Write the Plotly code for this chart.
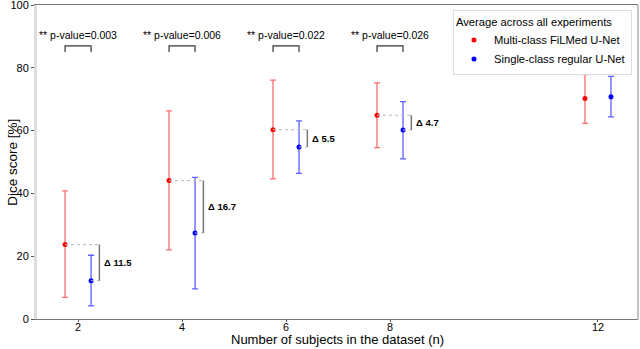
import plotly.graph_objects as go

# values
n_subjects = [2, 4, 6, 8, 12]

multi_mean = [23.7, 44.1, 60.3, 64.9, 70.2]
multi_low = [6.9, 22.0, 44.6, 54.6, 62.3]
multi_high = [40.8, 66.3, 76.1, 75.2, 77.8]

single_mean = [12.2, 27.4, 54.8, 60.2, 70.8]
single_low = [4.2, 9.6, 46.4, 51.0, 64.4]
single_high = [20.3, 45.1, 63.1, 69.2, 77.3]

p_values = ["0.003", "0.006", "0.022", "0.026"]
delta_labels = ["11.5", "16.7", "5.5", "4.7"]

OFFSET = 0.25
FONT = "Liberation Sans, Arial, sans-serif"
RED = "#ff0000"
BLUE = "#0000ff"


def add_series(fig, shift, mean, low, high, color, err_color, name):
    fig.add_trace(go.Scatter(
        x=[n + shift for n in n_subjects],
        y=mean,
        mode="markers",
        name=name,
        marker=dict(color=color, size=5),
        error_y=dict(
            type="data",
            symmetric=False,
            array=[h - m for h, m in zip(high, mean)],
            arrayminus=[m - l for m, l in zip(mean, low)],
            color=err_color,
            thickness=1.3,
            width=3,
        ),
    ))


fig = go.Figure()
add_series(fig, -OFFSET, multi_mean, multi_low, multi_high, RED,
           "rgba(255,60,60,0.75)", "Multi-class FiLMed U-Net")
add_series(fig, OFFSET, single_mean, single_low, single_high, BLUE,
           "rgba(40,40,255,0.75)", "Single-class regular U-Net")

# significance brackets and p-values
for n, p in zip(n_subjects, p_values):
    x0, x1 = n - OFFSET, n + OFFSET
    fig.add_shape(type="path",
                  path=f"M {x0},85 L {x0},87 L {x1},87 L {x1},85",
                  line=dict(color="#333333", width=1.2))
    fig.add_annotation(x=n, y=90.5, text=f"** p-value={p}", showarrow=False,
                       font=dict(size=10.5, color="black", family=FONT),
                       xanchor="center", yanchor="middle")

# delta markers between the two models
for n, m, s, d in zip(n_subjects, multi_mean, single_mean, delta_labels):
    xb = n + 0.41
    fig.add_shape(type="line", x0=n - OFFSET, x1=xb, y0=m, y1=m,
                  line=dict(color="#bbbbbb", width=1, dash="dot"))
    fig.add_shape(type="line", x0=n + OFFSET, x1=xb, y0=s, y1=s,
                  line=dict(color="#bbbbbb", width=1, dash="dot"))
    fig.add_shape(type="line", x0=xb, x1=xb, y0=s, y1=m,
                  line=dict(color="#777777", width=1.5))
    fig.add_annotation(x=xb, y=(m + s) / 2, text=f"<b>Δ {d}</b>",
                       showarrow=False, xanchor="left", yanchor="middle",
                       xshift=3, font=dict(size=9.5, color="black", family=FONT))

# right frame line
fig.add_shape(type="line", xref="paper", yref="paper", x0=1, x1=1, y0=0, y1=1,
              line=dict(color="#888888", width=1))

# axis titles placed as annotations so the plot area stays fixed
fig.add_annotation(xref="paper", yref="paper", x=0.5, y=-0.0924,
                   text="Number of subjects in the dataset (n)", showarrow=False,
                   xanchor="center", yanchor="bottom", borderpad=0,
                   font=dict(size=13, color="black", family=FONT))
fig.add_annotation(xref="paper", yref="paper", x=-0.042, y=0.5,
                   text="Dice score [%]", showarrow=False, textangle=-90,
                   xanchor="center", yanchor="middle",
                   font=dict(size=13.5, color="black", family=FONT))

fig.update_layout(
    width=640, height=349,
    margin=dict(l=37, r=2, t=5, b=30, autoexpand=False),
    plot_bgcolor="white", paper_bgcolor="white",
    font=dict(family=FONT, color="black"),
    showlegend=True,
    legend=dict(
        title=dict(text="Average across all experiments", font=dict(size=11.2)),
        font=dict(size=11.2),
        x=0.99, y=0.984, xanchor="right", yanchor="top",
        bgcolor="white", bordercolor="#dddddd", borderwidth=1,
        tracegroupgap=0,
    ),
)
fig.update_xaxes(
    range=[1.21, 12.77], automargin=False,
    tickvals=n_subjects, ticktext=[str(n) for n in n_subjects],
    showgrid=False, zeroline=False,
    showline=True, linecolor="#777777", linewidth=1, mirror=True,
    ticks="outside", ticklen=2, tickcolor="#555555",
    tickfont=dict(size=10.8), ticklabelstandoff=-4,
)
fig.update_yaxes(
    range=[0, 100], automargin=False,
    tickvals=[0, 20, 40, 60, 80, 100],
    showgrid=False, zeroline=False,
    showline=True, linecolor="#dddddd", linewidth=3,
    ticks="outside", ticklen=3, tickcolor="#555555",
    tickfont=dict(size=11), ticklabeloverflow="allow",
)

fig.write_html("out.html", config={"displayModeBar": False},
               post_script="document.body.style.margin='0';")
